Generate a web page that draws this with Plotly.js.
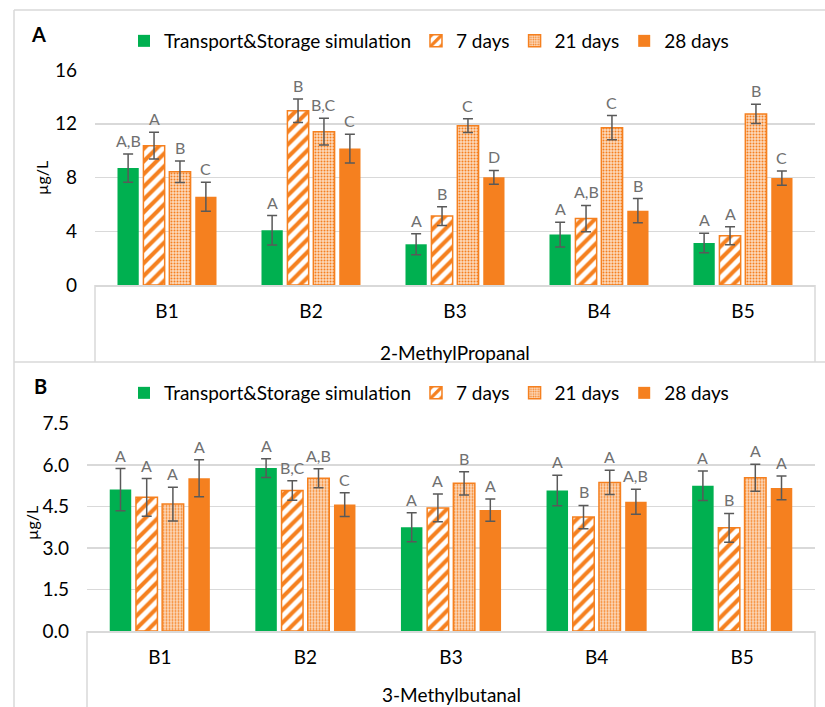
<!DOCTYPE html>
<html>
<head>
<meta charset="utf-8">
<script src="https://cdn.plot.ly/plotly-3.0.1.min.js"></script>
<style>html,body{margin:0;padding:0;background:#fff;}#chart{width:825px;height:707px;}</style>
</head>
<body>
<div id="chart"></div>
<script>
// ---------- DATA ----------
const categories = ['B1', 'B2', 'B3', 'B4', 'B5'];
const seriesNames = ['Transport&Storage simulation', '7 days', '21 days', '28 days'];

// Panel A: 2-MethylPropanal (µg/L)
const aTS   = [8.70, 4.07, 3.03, 3.75, 3.13];
const a7    = [10.37, 12.97, 5.13, 4.94, 3.67];
const a21   = [8.43, 11.41, 11.86, 11.71, 12.73];
const a28   = [6.57, 10.15, 8.01, 5.53, 7.96];
const aTSerr = [1.05, 1.10, 0.78, 0.92, 0.73];
const a7err  = [1.00, 0.87, 0.70, 0.98, 0.67];
const a21err = [0.80, 1.00, 0.52, 0.90, 0.72];
const a28err = [1.08, 1.07, 0.52, 0.90, 0.53];
const aTSlet = ['A,B', 'A', 'A', 'A', 'A'];
const a7let  = ['A', 'B', 'B', 'A,B', 'A'];
const a21let = ['B', 'B,C', 'C', 'C', 'B'];
const a28let = ['C', 'C', 'D', 'B', 'C'];

// Panel B: 3-Methylbutanal (µg/L)
const bTS   = [5.11, 5.89, 3.75, 5.08, 5.25];
const b7    = [4.83, 5.08, 4.45, 4.12, 3.73];
const b21   = [4.59, 5.52, 5.34, 5.37, 5.54];
const b28   = [5.52, 4.57, 4.37, 4.67, 5.17];
const bTSerr = [0.76, 0.34, 0.52, 0.55, 0.53];
const b7err  = [0.68, 0.35, 0.50, 0.42, 0.52];
const b21err = [0.61, 0.34, 0.42, 0.44, 0.49];
const b28err = [0.67, 0.43, 0.40, 0.45, 0.43];
const bTSlet = ['A', 'A', 'A', 'A', 'A'];
const b7let  = ['A', 'B,C', 'A', 'B', 'B'];
const b21let = ['A', 'A,B', 'B', 'A', 'A'];
const b28let = ['A', 'C', 'A', 'A,B', 'A'];

const yTicksA = [0, 4, 8, 12, 16];
const yTicksB = [0, 1.5, 3.0, 4.5, 6.0, 7.5];

// ---------- STYLE ----------
const W = 825, H = 707;
const FONT = 'Lato, "Open Sans", sans-serif';
const GREEN = '#00B050';
const ORANGE = '#F5801F';
const GRID = '#D9D9D9';
const ERR = '#595959';
const LETTER = '#707070';
const BARGAP = 0.28, GROUPGAP = 0.18;

const px = v => v / W;           // x pixel -> paper
const py = v => (H - v) / H;     // y pixel (from top) -> paper

function markers(k) {
  if (k === 0) return {color: GREEN, line: {color: GREEN, width: 0}};
  if (k === 1) return {color: ORANGE, line: {color: ORANGE, width: 1.5},
    pattern: {shape: '/', fillmode: 'replace', bgcolor: '#FFFFFF', size: 9, solidity: 0.45}};
  if (k === 2) return {color: ORANGE, line: {color: ORANGE, width: 1.5},
    pattern: {shape: '.', fillmode: 'replace', bgcolor: '#FCD9BC', size: 3, solidity: 0.35}};
  return {color: ORANGE, line: {color: ORANGE, width: 0}};
}

const panels = [
  {vals: [aTS, a7, a21, a28], errs: [aTSerr, a7err, a21err, a28err], lets: [aTSlet, a7let, a21let, a28let],
   xa: 'x', ya: 'y', legend: 'legend'},
  {vals: [bTS, b7, b21, b28], errs: [bTSerr, b7err, b21err, b28err], lets: [bTSlet, b7let, b21let, b28let],
   xa: 'x2', ya: 'y2', legend: 'legend2'}
];

const traces = [];
const annotations = [];
const slot = (1 - BARGAP) / seriesNames.length;
panels.forEach((p, pi) => {
  seriesNames.forEach((name, k) => {
    traces.push({
      type: 'bar', name: name, x: categories, y: p.vals[k],
      xaxis: p.xa, yaxis: p.ya, legend: p.legend,
      marker: markers(k),
      error_y: {type: 'data', array: p.errs[k], visible: true, color: ERR, thickness: 1.5, width: 5},
      hoverinfo: 'skip'
    });
    categories.forEach((c, i) => {
      annotations.push({
        xref: p.xa, yref: p.ya,
        x: i - (1 - BARGAP) / 2 + slot * (k + 0.5),
        y: p.vals[k][i] + p.errs[k][i],
        text: p.lets[k][i], showarrow: false, xanchor: 'center', yanchor: 'bottom', yshift: 2,
        font: {family: FONT, size: 16, color: LETTER}
      });
    });
  });
});

// Panel letters and axis titles
const paperText = (x, y, text, size, extra) => Object.assign({xref: 'paper', yref: 'paper',
  x: px(x), y: py(y), text: text, showarrow: false, xanchor: 'center', yanchor: 'middle',
  font: {family: FONT, size: size, color: '#000'}}, extra || {});
annotations.push(
  paperText(38, 34, '<b>A</b>', 20),
  paperText(40, 386, '<b>B</b>', 20),
  paperText(41, 178, 'µg/L', 16, {textangle: -90}),
  paperText(31, 523, 'µg/L', 16, {textangle: -90}),
  paperText(455, 352, '2-MethylPropanal', 19),
  paperText(451, 694, '3-Methylbutanal', 19)
);

const line = (x0, y0, x1, y1) => ({type: 'line', xref: 'paper', yref: 'paper',
  x0: px(x0), y0: py(y0), x1: px(x1), y1: py(y1), line: {color: GRID, width: 1.5}});
const shapes = [
  line(14, 10, 825, 10),
  line(14, 10, 14, 707),
  line(14, 362, 825, 362),
  line(95, 285, 95, 362),
  line(815, 285, 815, 362),
  line(87, 631, 87, 707),
  line(815, 631, 815, 707)
];

const tickFont = {family: FONT, size: 19, color: '#000'};
const xBase = {type: 'category', showgrid: false, showline: true, linecolor: GRID, linewidth: 1.5,
  ticks: '', tickfont: tickFont, ticklabelstandoff: 9, fixedrange: true, zeroline: false};
const yBase = {showgrid: true, gridcolor: GRID, gridwidth: 1.5, zeroline: false, showline: false,
  ticks: '', tickfont: tickFont, ticklabelstandoff: 17, fixedrange: true};
const legBase = {orientation: 'h', xanchor: 'left', yanchor: 'middle', bgcolor: 'rgba(0,0,0,0)',
  font: {family: FONT, size: 19, color: '#000'}, traceorder: 'normal', itemclick: false, itemdoubleclick: false};

const layout = {
  width: W, height: H, margin: {l: 0, r: 0, t: 0, b: 0},
  paper_bgcolor: '#fff', plot_bgcolor: '#fff',
  font: {family: FONT},
  barmode: 'group', bargap: BARGAP, bargroupgap: GROUPGAP,
  showlegend: true,
  xaxis: Object.assign({}, xBase, {domain: [px(95), px(815)], anchor: 'y'}),
  yaxis: Object.assign({}, yBase, {domain: [py(285), py(70)], range: [0, 16], tickvals: yTicksA, anchor: 'x'}),
  xaxis2: Object.assign({}, xBase, {domain: [px(87), px(815)], anchor: 'y2'}),
  yaxis2: Object.assign({}, yBase, {domain: [py(631), py(423.5)], range: [0, 7.5], tickvals: yTicksB,
    tickformat: '.1f', anchor: 'x2'}),
  legend: Object.assign({}, legBase, {x: px(124), y: py(41)}),
  legend2: Object.assign({}, legBase, {x: px(124), y: py(393)}),
  annotations: annotations,
  shapes: shapes
};

Plotly.newPlot('chart', traces, layout, {displayModeBar: false, staticPlot: true});
</script>
</body>
</html>
